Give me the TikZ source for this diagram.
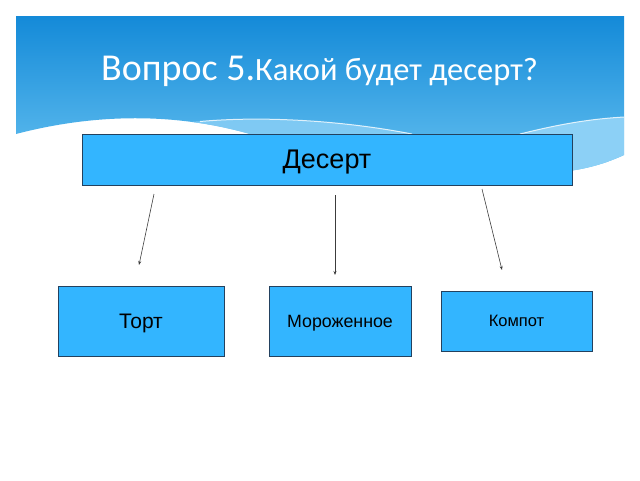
\documentclass[tikz,border=0pt]{standalone}
\usepackage{fontspec}
\setmainfont{Liberation Sans}
\newfontfamily\titlefont{Carlito}
\usetikzlibrary{arrows.meta}
\definecolor{bannertop}{RGB}{20,138,216}
\definecolor{bannerbot}{RGB}{100,192,240}
\definecolor{wavelight}{RGB}{140,208,246}
\definecolor{boxfill}{RGB}{51,181,255}
\definecolor{boxline}{RGB}{35,65,95}
\definecolor{arrowgray}{RGB}{60,60,60}

\begin{document}
\begin{tikzpicture}[x=1pt,y=-1pt,
    box/.style={draw=boxline,fill=boxfill,line width=0.8pt,inner sep=0pt,text depth=0pt,text=black},
    arr/.style={draw=arrowgray,line width=0.6pt,-{Stealth[length=4pt,width=3pt]}}]
    \useasboundingbox (0,0) rectangle (640,480);

    % banner
    \path[top color=bannertop,bottom color=bannerbot] (16,16) -- (624,16) -- (624,155) .. controls (600,166) and (580,170) .. (560,172) -- (300,172) -- (250,134) .. controls (180,114) and (100,112) .. (16,134) -- cycle;
    \begin{scope}
        \clip (16,16) -- (624,16) -- (624,155) .. controls (600,166) and (580,170) .. (560,172) -- (300,172) -- (250,134) .. controls (180,114) and (100,112) .. (16,134) -- cycle;
        \fill[wavelight,opacity=.8] (190,122) .. controls (260,116) and (340,120) .. (412,134) -- (190,134) -- cycle;
        \fill[wavelight] (520,134) .. controls (560,124) and (590,119) .. (624,117) -- (624,180) -- (520,180) -- cycle;
        \draw[white,line width=1pt,opacity=.8] (200,121.5) .. controls (260,116) and (340,120) .. (412,134);
        \draw[white,line width=1pt,opacity=.8] (520,134) .. controls (560,124) and (590,119) .. (624,117);
    \end{scope}

    \node[text=white,anchor=base west,inner sep=0pt] (title) at (101,80.5) {\titlefont{\fontsize{38}{38}\selectfont Вопрос 5.}{\fontsize{32.5}{32.5}\selectfont Какой будет десерт?}};

    \node[box,minimum width=490pt,minimum height=51pt,font=\fontsize{27}{27}\selectfont] (desert) at (327,159.5) {Десерт};
    \node[box,minimum width=166pt,minimum height=70pt,font=\fontsize{21}{21}\selectfont] (tort) at (141,321) {Торт};
    \node[box,minimum width=142pt,minimum height=70pt,font=\fontsize{17.8}{17.8}\selectfont] (ice) at (340,321) {Мороженное};
    \node[box,minimum width=151pt,minimum height=60pt,font=\fontsize{16.5}{16.5}\selectfont] (kompot) at (516.5,321) {Компот};

    \coordinate (s1) at (154,194);
    \coordinate (e1) at (139,265);
    \coordinate (s2) at (335,195);
    \coordinate (e2) at (335,275);
    \coordinate (s3) at (482,189);
    \coordinate (e3) at (502,270);

    \draw[arr] (s1) -- (e1);
    \draw[arr] (s2) -- (e2);
    \draw[arr] (s3) -- (e3);
\end{tikzpicture}
\end{document}
